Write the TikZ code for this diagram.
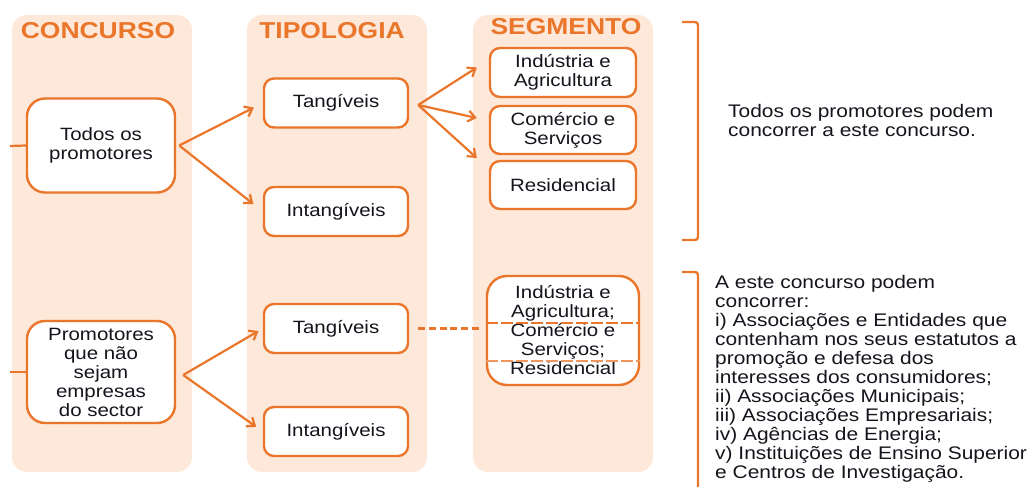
\documentclass[tikz,border=0pt]{standalone}
\usepackage{fontspec}
\setmainfont{Liberation Sans}[FakeStretch=1.15]
\usetikzlibrary{arrows.meta,calc}
\definecolor{mOrange}{RGB}{233,118,43}
\definecolor{mPanel}{RGB}{253,232,217}
\definecolor{mText}{RGB}{20,20,28}

\begin{document}
\begin{tikzpicture}[x=1pt, y=-1pt,
    panel/.style={fill=mPanel, rounded corners=15pt},
    heading/.style={anchor=base, inner sep=0pt, text=mOrange, font=\fontsize{23}{26}\selectfont\bfseries},
    box/.style={draw=mOrange, line width=2.4pt, fill=white, rounded corners=10pt, inner sep=1pt,
      align=center, text=mText, font=\fontsize{17.8}{19}\selectfont},
    link/.style={draw=mOrange, line width=2.2pt, -{Straight Barb[length=7pt,width=11pt]}},
    stub/.style={draw=mOrange, line width=2.2pt},
    sepline/.style={draw=mOrange, line width=1.1pt, dash pattern=on 12pt off 3pt},
    bracket/.style={draw=mOrange, line width=2.4pt, rounded corners=3pt},
    note/.style={anchor=north west, inner sep=0pt, align=left, text=mText, font=\fontsize{18.2}{19}\selectfont}]
    \useasboundingbox (0,0) rectangle (1031,487);

    % columns
    \fill[panel] (12,15) rectangle (192,472);
    \fill[panel] (247,15) rectangle (427,472);
    \fill[panel] (473,15) rectangle (653,472);
    \node[heading] (hconc) at (98,39) {CONCURSO};
    \node[heading] (htipo) at (332,39) {TIPOLOGIA};
    \node[heading] (hseg) at (566,35) {SEGMENTO};

    % upper branch
    \node[box, minimum width=148pt, minimum height=94pt, rounded corners=18pt] (todos) at (101,145.5) {Todos os\\promotores};
    \node[box, minimum width=144pt, minimum height=49pt] (tang1) at (336,103) {Tangíveis};
    \node[box, minimum width=144pt, minimum height=49pt] (intang1) at (336,211.5) {Intangíveis};
    \node[box, minimum width=146pt, minimum height=49pt] (ind) at (563,72.5) {Indústria e\\Agricultura};
    \node[box, minimum width=146pt, minimum height=48pt] (com) at (563,130) {Comércio e\\Serviços};
    \node[box, minimum width=146pt, minimum height=48pt] (res) at (563,185) {Residencial};

    \coordinate (in1) at (10,146);
    \draw[stub] (in1) -- (todos.west);
    \draw[link, shorten >=10pt] ([xshift=3pt]todos.east) -- (tang1.west);
    \draw[link, shorten >=12pt] ([xshift=3pt]todos.east) -- (intang1.west);
    \coordinate (t1r) at ([xshift=9pt,yshift=-2pt]tang1.east);
    \draw[link] (t1r) -- ($(ind.west)+(-12,-5)$);
    \draw[link] (t1r) -- ($(com.west)+(-12,-12)$);
    \draw[link] (t1r) -- ($(res.west)+(-12,-27)$);

    % lower branch
    \node[box, minimum width=148pt, minimum height=102pt, rounded corners=18pt] (promo) at (101,372) {Promotores\\que não\\sejam\\empresas\\do sector};
    \node[box, minimum width=144pt, minimum height=49pt] (tang2) at (336,328.5) {Tangíveis};
    \node[box, minimum width=144pt, minimum height=49pt] (intang2) at (336,431.5) {Intangíveis};
    \node[box, minimum width=152pt, minimum height=109pt, rounded corners=20pt] (seg) at (563,330.5)
      {Indústria e\\Agricultura;\\Comércio e\\Serviços;\\Residencial};
    \draw[sepline] ([yshift=7.5pt]seg.west) -- ([yshift=7.5pt]seg.east);
    \draw[sepline, draw=mOrange!75] ([yshift=-30.5pt]seg.west) -- ([yshift=-30.5pt]seg.east);

    \coordinate (in2) at (10,372);
    \draw[stub] (in2) -- (promo.west);
    \draw[link, shorten >=5pt] ([xshift=7pt,yshift=-3pt]promo.east) -- (tang2.west);
    \draw[link, shorten >=8pt] ([xshift=7pt,yshift=-3pt]promo.east) -- (intang2.west);
    \draw[draw=mOrange, line width=3pt, dash pattern=on 7pt off 3.7pt, shorten <=9pt, shorten >=7pt]
      (tang2.east) -- (tang2.east -| seg.west);

    % brackets and notes
    \draw[bracket] (682,22) -- (698,22) -- (698,240) -- (682,240);
    \draw[bracket] (682,272) -- (698,272) -- (698,495);
    \node[note] (allnote) at (728,104) {Todos os promotores podem\\concorrer a este concurso.};
    \node[note] (listnote) at (715,275) {A este concurso podem\\concorrer:\\i) Associações e Entidades que\\contenham nos seus estatutos a\\promoção e defesa dos\\interesses dos consumidores;\\ii) Associações Municipais;\\iii) Associações Empresariais;\\iv) Agências de Energia;\\v) Instituições de Ensino Superior\\e Centros de Investigação.};
\end{tikzpicture}
\end{document}
